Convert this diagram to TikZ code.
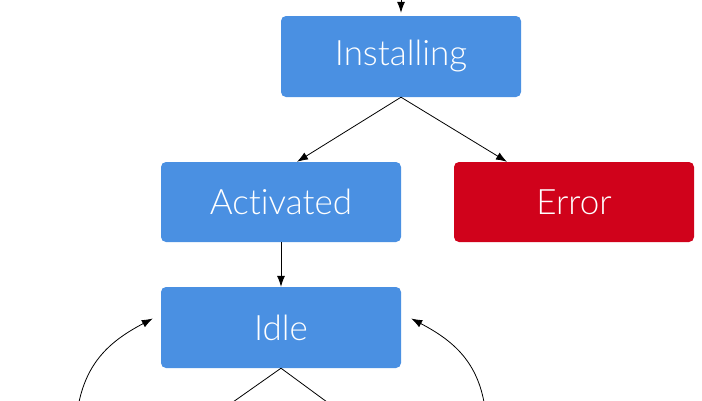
\documentclass[tikz,border=0pt]{standalone}
\usepackage{fontspec}
\setmainfont{Lato Light}[Ligatures=NoCommon]
\usetikzlibrary{arrows.meta,calc}
\definecolor{stblue}{HTML}{4A90E2}
\definecolor{stred}{HTML}{D0021B}
\tikzset{
  state/.style={rectangle, rounded corners=5pt, minimum width=240pt, minimum height=80pt,
    inner sep=0pt, text=white, font=\fontsize{35}{40}\selectfont, fill=stblue},
  errstate/.style={state, fill=stred},
  conn/.style={draw=black, line width=0.8pt, -{Latex[length=11pt,width=8pt]}},
  plain/.style={draw=black, line width=0.8pt}
}
\begin{document}
\begin{tikzpicture}[x=1pt,y=-1pt]
\useasboundingbox (0,0) rectangle (702,400);
\clip (0,0) rectangle (702,400);
\node[state, minimum height=81pt] (inst) at (401,56.5) {Installing};
\node[state] (act) at (281,202) {Activated};
\node[errstate] (err) at (574,202) {Error};
\node[state, minimum height=81pt] (idle) at (281,327.5) {Idle};
\coordinate (top) at (401,-2);
\coordinate (lb) at (79,402);
\coordinate (rb) at (484,402);
\coordinate (bl) at (233,402);
\coordinate (br) at (327,402);
\draw[conn] (top) -- ([yshift=3pt]inst.north);
\draw[conn] (inst.south) -- ([xshift=16pt]act.north);
\draw[conn] (inst.south) -- ([xshift=-67pt]err.north);
\draw[conn] (act.south) -- (idle.north);
\draw[plain] (idle.south) -- (bl);
\draw[plain] (idle.south) -- (br);
\draw[conn] (lb) .. controls (88,360) and (112,340) .. ([xshift=-8pt,yshift=9pt]idle.west);
\draw[conn] (rb) .. controls (476,360) and (452,340) .. ([xshift=10pt,yshift=9pt]idle.east);
\end{tikzpicture}
\end{document}
